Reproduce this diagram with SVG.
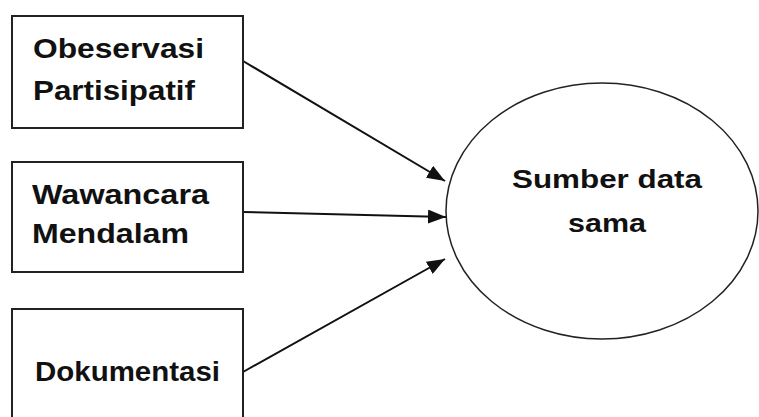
<svg xmlns="http://www.w3.org/2000/svg" width="759" height="417" viewBox="0 0 759 417">
<style>
.box{fill:#fff;stroke:#222;stroke-width:2}
.lbl{font-family:"Liberation Sans",Arial,sans-serif;font-weight:bold;font-size:28px;fill:#111}
.big{font-size:26.5px}
.conn{stroke:#111;stroke-width:2;fill:none}
</style>
<defs>
<marker id="ah" markerUnits="userSpaceOnUse" markerWidth="18" markerHeight="14" refX="18" refY="7" orient="auto">
<path d="M0,0 L18,7 L0,14 z" fill="#111"/>
</marker>
</defs>
<rect width="759" height="417" fill="#fff"/>
<g id="connectors">
<line class="conn" x1="243" y1="61" x2="445" y2="181" marker-end="url(#ah)"/>
<line class="conn" x1="243" y1="212" x2="446" y2="217" marker-end="url(#ah)"/>
<line class="conn" x1="243" y1="372" x2="445" y2="259" marker-end="url(#ah)"/>
</g>
<g id="node-observasi">
<rect class="box" x="12" y="16" width="231" height="112"/>
<text class="lbl" x="33" y="58" textLength="171" lengthAdjust="spacingAndGlyphs">Obeservasi</text>
<text class="lbl" x="33" y="100" textLength="162" lengthAdjust="spacingAndGlyphs">Partisipatif</text>
</g>
<g id="node-wawancara">
<rect class="box" x="12" y="162" width="231" height="110"/>
<text class="lbl" x="32" y="204" textLength="177" lengthAdjust="spacingAndGlyphs">Wawancara</text>
<text class="lbl" x="32" y="243" textLength="157" lengthAdjust="spacingAndGlyphs">Mendalam</text>
</g>
<g id="node-dokumentasi">
<rect class="box" x="12" y="309" width="231" height="120"/>
<text class="lbl" x="35" y="381" textLength="185" lengthAdjust="spacingAndGlyphs">Dokumentasi</text>
</g>
<g id="node-sumber">
<ellipse cx="602" cy="211" rx="156" ry="128" fill="#fff" stroke="#222" stroke-width="1.5"/>
<text class="lbl big" x="607" y="188" text-anchor="middle" textLength="190" lengthAdjust="spacingAndGlyphs">Sumber data</text>
<text class="lbl big" x="607" y="232" text-anchor="middle" textLength="78" lengthAdjust="spacingAndGlyphs">sama</text>
</g>
</svg>
